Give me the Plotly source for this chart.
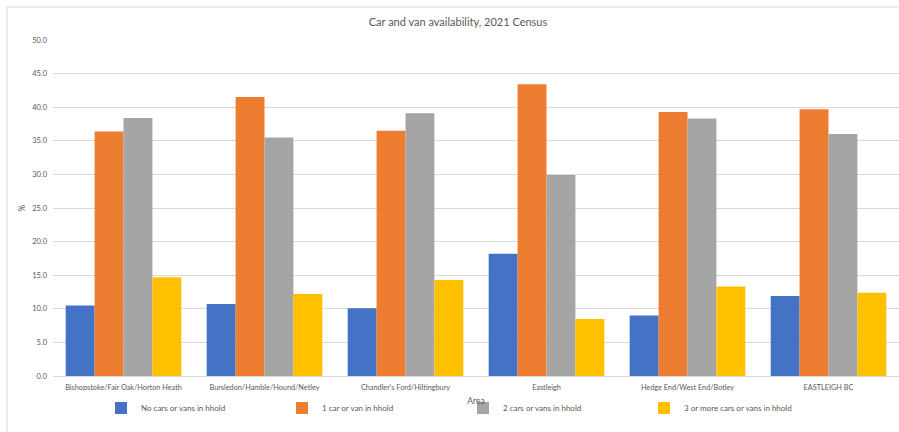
import plotly.graph_objects as go

areas = ["Bishopstoke/Fair Oak/Horton Heath", "Bursledon/Hamble/Hound/Netley",
         "Chandler's Ford/Hiltingbury", "Eastleigh", "Hedge End/West End/Botley", "EASTLEIGH BC"]
no_cars = [10.5, 10.7, 10.1, 18.2, 9.0, 11.9]
one_car = [36.4, 41.5, 36.5, 43.4, 39.3, 39.7]
two_cars = [38.4, 35.5, 39.1, 29.9, 38.3, 36.0]
three_plus = [14.7, 12.2, 14.3, 8.5, 13.3, 12.4]

series = [
    ("No cars or vans in hhold", no_cars, "#4472C4"),
    ("1 car or van in hhold", one_car, "#ED7D31"),
    ("2 cars or vans in hhold", two_cars, "#A5A5A5"),
    ("3 or more cars or vans in hhold", three_plus, "#FFC000"),
]

fig = go.Figure()
for name, vals, col in series:
    fig.add_trace(go.Bar(x=areas, y=vals, name=name, marker=dict(color=col, line=dict(width=0))))

W, H = 899, 432
L, R, T, B = 53, 0, 40, 56
pw, ph = W - L - R, H - T - B

fig.update_layout(
    width=W, height=H,
    margin=dict(l=L, r=R, t=T, b=B, pad=0, autoexpand=False),
    paper_bgcolor="white", plot_bgcolor="white",
    font=dict(family="Lato, Open Sans, sans-serif", color="#595959", size=8),
    barmode="group", bargap=0.18, bargroupgap=0,
    title=dict(text="Car and van availability, 2021 Census", x=458 / W, xanchor="center",
               y=1 - 22 / H, yanchor="middle", font=dict(size=11, color="#595959")),
    xaxis=dict(showgrid=False, showline=True, linecolor="#d9d9d9", linewidth=1,
               ticks="", tickfont=dict(size=7.3, color="#595959"), ticklabelstandoff=4,
               title=dict(text="Area", font=dict(size=8.5, color="#595959"), standoff=7)),
    yaxis=dict(range=[0, 50], dtick=5, tickformat=".1f", showgrid=True, gridcolor="#d9d9d9",
               gridwidth=1, zeroline=False, ticks="", tickfont=dict(size=7.5, color="#595959"),
               ticklabelstandoff=5,
               title=dict(text="%", font=dict(size=8.5, color="#595959"), standoff=5)),
    legend=dict(orientation="h", x=(101 - L) / pw, xanchor="left", y=(376 - 408) / ph,
                yanchor="middle", font=dict(size=8, color="#595959"),
                entrywidth=136, entrywidthmode="pixels", itemwidth=30, bgcolor="rgba(0,0,0,0)"),
    showlegend=True,
)

fig.add_shape(type="rect", xref="paper", yref="paper",
              x0=(7 - L) / pw, x1=1.1, y0=-0.3, y1=(376 - 7) / ph,
              line=dict(color="#d9d9d9", width=1), fillcolor="rgba(0,0,0,0)", layer="below")

fig.write_html("out.html")
